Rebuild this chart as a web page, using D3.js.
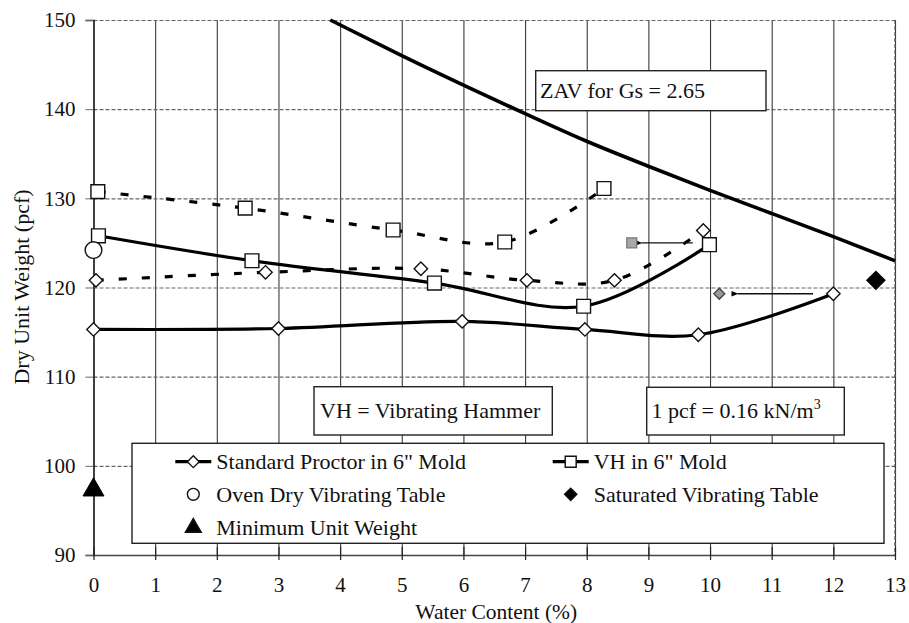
<!DOCTYPE html>
<html>
<head>
<meta charset="utf-8">
<script src="https://cdn.jsdelivr.net/npm/d3@7"></script>
<style>
  html, body { margin: 0; padding: 0; background: #fff; }
  svg { display: block; }
  svg text { font-family: "Liberation Serif", "Tinos", "Times New Roman", "DejaVu Serif", serif !important; fill: #111; }
</style>
</head>
<body>
<svg id="chart" width="909" height="623"></svg>
<script>
// Water content (%) and dry unit weight (pcf) for each test series
const proctorW   = [0, 3, 5.98, 7.97, 9.81, 12.0];
const proctorG   = [115.3, 115.4, 116.2, 115.3, 114.7, 119.3];

const vhW        = [0.08, 2.57, 5.53, 7.95, 9.99];
const vhG        = [125.8, 123.0, 120.5, 117.9, 124.8];

const vhDashW    = [0.07, 2.46, 4.86, 6.67, 8.28];
const vhDashG    = [130.75, 128.9, 126.45, 125.1, 131.1];

const proctorDashW = [0.04, 2.79, 5.31, 7.03, 8.45, 9.89];
const proctorDashG = [120.8, 121.7, 122.1, 120.8, 120.8, 126.4];

const ovenDry    = [[0, 124.2]];
const saturated  = [[12.69, 120.8]];
const minimum    = [[0, 97.3]];

// Zero-air-voids curve, Gs = 2.65
const zavW = [3.84, 5, 6, 7, 8, 9, 10, 11, 12, 13];
const zavG = [150, 146.0, 142.7, 139.5, 136.4, 133.6, 130.9, 128.3, 125.7, 123.0];

// Shifted points with their arrows (from -> to)
const shiftedSquare  = [[8.73, 125.0]];
const shiftedDiamond = [[10.15, 119.3]];
const arrowFromW = [9.72, 11.67];
const arrowToW   = [8.89, 10.45];
const arrowG     = [125.0, 119.3];

const xTicks = [0, 1, 2, 3, 4, 5, 6, 7, 8, 9, 10, 11, 12, 13];
const yTicks = [90, 100, 110, 120, 130, 140, 150];

const legendItems = [
  "Standard Proctor in 6\" Mold", "VH in 6\" Mold",
  "Oven Dry Vibrating Table", "Saturated Vibrating Table",
  "Minimum Unit Weight"
];

const FONT = "'Liberation Serif', Tinos, 'Times New Roman', 'DejaVu Serif', serif";
const svg = d3.select("#chart");
const L = 93.5, R = 895, T = 20, B = 555;
const x = d3.scaleLinear().domain([0, 13]).range([L, R]);
const y = d3.scaleLinear().domain([90, 150]).range([B, T]);
const zip = (a, b) => a.map((v, i) => [v, b[i]]);

// Grid
const grid = svg.append("g");
grid.append("g")
  .attr("transform", `translate(0,${B})`)
  .call(d3.axisBottom(x).tickValues(xTicks.slice(1)).tickSize(-(B - T)).tickFormat(""))
  .call(g => g.select(".domain").remove())
  .call(g => g.selectAll("line").attr("stroke", "#3a3a3a").attr("stroke-width", 1.1));
grid.append("g")
  .attr("transform", `translate(${L},0)`)
  .call(d3.axisLeft(y).tickValues(yTicks).tickSize(-(R - L)).tickFormat(""))
  .call(g => g.select(".domain").remove())
  .call(g => g.selectAll("line").attr("stroke", "#666").attr("stroke-width", 1.1).attr("stroke-dasharray", "4,2"));
grid.append("line").attr("x1", R).attr("x2", R).attr("y1", T).attr("y2", B)
  .attr("stroke", "#555").attr("stroke-width", 1.2).attr("stroke-dasharray", "4,2");

// Axes
svg.append("g")
  .attr("transform", `translate(${L},0)`)
  .call(d3.axisLeft(y).tickValues(yTicks).tickSize(8).tickPadding(10))
  .attr("font-family", FONT)
  .call(g => g.select(".domain").attr("stroke", "#111").attr("stroke-width", 1.6))
  .call(g => g.selectAll(".tick line").attr("stroke", "#666"))
  .call(g => g.selectAll("text").attr("font-size", 21).attr("fill", "#111"));

svg.append("g")
  .attr("transform", `translate(0,${B})`)
  .call(d3.axisBottom(x).tickValues(xTicks).tickSizeInner(5).tickSizeOuter(0).tickPadding(17))
  .attr("font-family", FONT)
  .call(g => g.select(".domain").attr("stroke", "#444").attr("stroke-width", 1.4))
  .call(g => g.selectAll(".tick line").attr("stroke", "#222").attr("stroke-width", 1.2).attr("y1", -8))
  .call(g => g.selectAll("text").attr("font-size", 21).attr("fill", "#111"));

svg.append("text").attr("x", (L + R) / 2 + 2).attr("y", 619).attr("text-anchor", "middle")
  .attr("font-family", FONT).attr("font-size", 21.5).text("Water Content (%)");
svg.append("text").attr("transform", "translate(29,287) rotate(-90)").attr("text-anchor", "middle")
  .attr("font-family", FONT).attr("font-size", 22).text("Dry Unit Weight (pcf)");

// Lines
const smooth = d3.line().x(d => x(d[0])).y(d => y(d[1])).curve(d3.curveCatmullRom.alpha(0.5));
const lines = svg.append("g").attr("fill", "none").attr("stroke", "#000");
lines.append("path").attr("d", d3.line().x(d => x(d[0])).y(d => y(d[1])).curve(d3.curveNatural)(zip(zavW, zavG)))
  .attr("stroke-width", 3.6);
lines.append("path").attr("d", smooth(zip(vhDashW, vhDashG))).attr("stroke-width", 3.2).attr("stroke-dasharray", "8,15");
lines.append("path").attr("d", smooth(zip(proctorDashW, proctorDashG))).attr("stroke-width", 3.2).attr("stroke-dasharray", "8,15");
lines.append("path").attr("d", smooth(zip(vhW, vhG))).attr("stroke-width", 3.2);
lines.append("path").attr("d", smooth(zip(proctorW, proctorG))).attr("stroke-width", 3.2);

// Arrows to shifted points
const defs = svg.append("defs");
defs.append("marker").attr("id", "head").attr("viewBox", "0 0 10 10").attr("refX", 1).attr("refY", 5)
  .attr("markerWidth", 9).attr("markerHeight", 7).attr("markerUnits", "userSpaceOnUse").attr("orient", "auto")
  .append("path").attr("d", "M10,1 L0,5 L10,9 Z").attr("fill", "#000");
svg.append("g").selectAll("line").data(arrowFromW).join("line")
  .attr("x1", d => x(d)).attr("x2", (d, i) => x(arrowToW[i]))
  .attr("y1", (d, i) => y(arrowG[i])).attr("y2", (d, i) => y(arrowG[i]))
  .attr("stroke", "#111").attr("stroke-width", 1.4).attr("marker-end", "url(#head)");

// Marker symbols
const sym = (type, size) => d3.symbol().type(type).size(size)();
function markers(data, type, size, fill, stroke, sw, rot) {
  svg.append("g").selectAll("path").data(data).join("path")
    .attr("d", sym(type, size))
    .attr("transform", d => `translate(${x(d[0])},${y(d[1])})${rot ? " rotate(" + rot + ")" : ""}`)
    .attr("fill", fill).attr("stroke", stroke).attr("stroke-width", sw);
}
const diamond = d3.symbolSquare; // drawn rotated by 45 degrees
markers(zip(proctorDashW, proctorDashG), diamond, 90, "#fff", "#111", 1.4, 45);
markers(zip(proctorW, proctorG), diamond, 90, "#fff", "#111", 1.4, 45);
markers(zip(vhDashW, vhDashG), d3.symbolSquare, 190, "#fff", "#111", 1.4);
markers(zip(vhW, vhG), d3.symbolSquare, 190, "#fff", "#111", 1.4);
markers(ovenDry, d3.symbolCircle, 220, "#fff", "#111", 1.4);
markers(saturated, diamond, 170, "#000", "#000", 1, 45);
markers(minimum, d3.symbolTriangle, 190, "#000", "#000", 1);
markers(shiftedSquare, d3.symbolSquare, 100, "#a8a8a8", "#777", 1.2);
markers(shiftedDiamond, diamond, 60, "#999", "#444", 1.3, 45);

// Annotation boxes
function box(x0, y0, x1, y1, tx, ty, build) {
  svg.append("rect").attr("x", x0).attr("y", y0).attr("width", x1 - x0).attr("height", y1 - y0)
    .attr("fill", "#fff").attr("stroke", "#222").attr("stroke-width", 1.4);
  const t = svg.append("text").attr("x", tx).attr("y", ty).attr("font-family", FONT).attr("font-size", 22);
  build(t);
}
box(535.7, 70.7, 766, 110.7, 540, 98, t => t.text("ZAV for Gs = 2.65"));
box(314, 386.7, 552.3, 435, 320, 418, t => t.text("VH = Vibrating Hammer"));
box(646.7, 387.3, 844.3, 435, 651.5, 418, t => {
  t.append("tspan").text("1 pcf = 0.16 kN/m");
  t.append("tspan").attr("font-size", 14).attr("dy", -9).text("3");
});

// Legend
const leg = svg.append("g");
leg.append("rect").attr("x", 132).attr("y", 443.3).attr("width", 884 - 132).attr("height", 100)
  .attr("fill", "#fff").attr("stroke", "#222").attr("stroke-width", 1.4);
const rowsY = [461.7, 494.3, 527.7];
const legPos = [[193.3, rowsY[0]], [570.7, rowsY[0]], [193.3, rowsY[1]], [570.7, rowsY[1]], [193.3, rowsY[2]]];
const legSym = [
  { type: diamond, size: 70, fill: "#fff", rot: 45, line: true },
  { type: d3.symbolSquare, size: 120, fill: "#fff", rot: 0, line: true },
  { type: d3.symbolCircle, size: 110, fill: "#fff", rot: 0, line: false },
  { type: diamond, size: 75, fill: "#000", rot: 45, line: false },
  { type: d3.symbolTriangle, size: 110, fill: "#000", rot: 0, line: false }
];
legendItems.forEach((name, i) => {
  const [cx, cy] = legPos[i];
  const s = legSym[i];
  if (s.line) {
    leg.append("line").attr("x1", cx - 18).attr("x2", cx + 18).attr("y1", cy).attr("y2", cy)
      .attr("stroke", "#000").attr("stroke-width", 3.2);
  }
  leg.append("path").attr("d", sym(s.type, s.size))
    .attr("transform", `translate(${cx},${cy})${s.rot ? " rotate(" + s.rot + ")" : ""}`)
    .attr("fill", s.fill).attr("stroke", "#111").attr("stroke-width", 1.4);
  leg.append("text").attr("x", cx + 23).attr("y", cy).attr("dy", "0.35em")
    .attr("font-family", FONT).attr("font-size", 22).text(name);
});
</script>
</body>
</html>
